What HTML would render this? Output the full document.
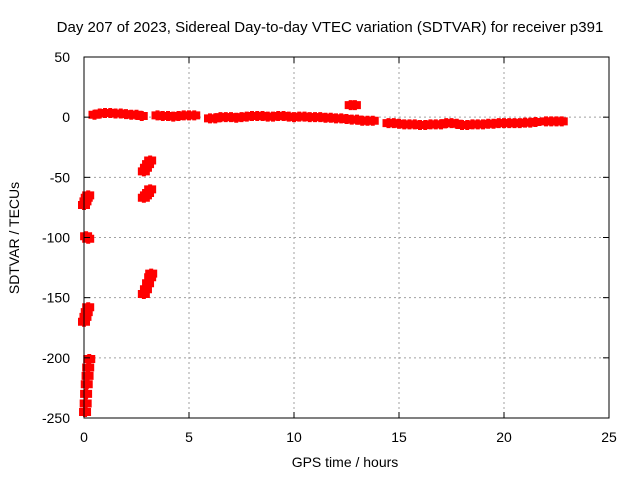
<!DOCTYPE html>
<html><head><meta charset="utf-8"><style>
body{margin:0;background:#fff;}
svg{display:block;font-family:"Liberation Sans",sans-serif;}
</style></head><body>
<svg id="chart" width="640" height="480" viewBox="0 0 640 480">
<text x="330" y="32" font-size="15" text-anchor="middle" fill="#000">Day 207 of 2023, Sidereal Day-to-day VTEC variation (SDTVAR) for receiver p391</text>
<text x="0" y="0" font-size="14" text-anchor="middle" transform="translate(19,238) rotate(-90)">SDTVAR / TECUs</text>
<text x="345" y="467" font-size="14" text-anchor="middle">GPS time / hours</text>
<g id="grid"></g><g id="marks"></g><g id="axes"></g>
</svg>
<script>
const xTicks=[0,5,10,15,20,25];
const yTicks=[50,0,-50,-100,-150,-200,-250];
const hours=[0.5,0.75,1.0,1.25,1.5,1.75,2.0,2.25,2.5,2.75,3.5,3.75,4.0,4.25,4.5,4.75,5.0,5.25,6.0,6.25,6.5,6.75,7.0,7.25,7.5,7.75,8.0,8.25,8.5,8.75,9.0,9.25,9.5,9.75,10.0,10.25,10.5,10.75,11.0,11.25,11.5,11.75,12.0,12.25,12.5,12.75,13.0,13.25,13.5,13.75,14.5,14.75,15.0,15.25,15.5,15.75,16.0,16.25,16.5,16.75,17.0,17.25,17.5,17.75,18.0,18.25,18.5,18.75,19.0,19.25,19.5,19.75,20.0,20.25,20.5,20.75,21.0,21.25,21.5,22.0,22.25,22.5,22.75,12.7,12.9,
0.05,0.08,0.1,0.13,0.17,0.2,0.25,0.0,0.07,0.13,0.2,0.1,0.2,0.0,0.07,0.13,0.2,2.85,2.95,3.05,3.15,3.2,2.85,2.95,3.05,3.15,2.85,2.95,3.05,3.15];
const values=[2,3,3.5,3.5,3,3,2.5,2,2,1,1.5,1,1,0.5,1,1.5,1.5,1.5,-1,-1,0,0,0,-0.5,0,0.5,1,1,1,0.5,0.5,1,1,0.5,0,0.5,0.5,0,0,0,-0.5,-0.5,-1,-1,-1.5,-2,-2,-3,-3,-3,-5,-5,-5.5,-6,-6,-6,-6.5,-6.5,-6,-6,-6,-5,-5,-5.5,-6.5,-6.5,-6,-6,-6,-5.5,-5.5,-5,-5,-5,-5,-5,-4.5,-4.5,-4,-3.5,-3.5,-3.5,-3.5,10,10,
-245,-238,-230,-222,-215,-208,-201,-170,-166,-162,-158,-99,-101,-73,-70,-67,-65,-147,-143,-138,-133,-130,-67,-65,-63,-60,-45,-42,-39,-36];
const L=84,R=609,T=57,B=418;
const xs=h=>L+(h-0)/25*(R-L);
const ys=v=>T+(50-v)/300*(B-T);
const NS='http://www.w3.org/2000/svg';
function mk(tag,attrs,parent){const e=document.createElementNS(NS,tag);for(const k in attrs)e.setAttribute(k,attrs[k]);parent.appendChild(e);return e;}
const grid=document.getElementById('grid'),axes=document.getElementById('axes'),marks=document.getElementById('marks');
xTicks.forEach(t=>{const x=xs(t);
 if(t>0&&t<25){const g=mk('line',{x1:x,x2:x,y1:T,y2:B,stroke:'#a0a0a0','stroke-dasharray':'2,3'},grid);
 
 }
 mk('line',{x1:x,x2:x,y1:B,y2:B-6,stroke:'#000'},axes);mk('line',{x1:x,x2:x,y1:T,y2:T+6,stroke:'#000'},axes);
 const tx=mk('text',{x:x,y:B+24,'font-size':14,'text-anchor':'middle'},axes);tx.textContent=t;
 
 });
yTicks.forEach(t=>{const y=ys(t);
 if(t<50&&t>-250){const g=mk('line',{x1:L,x2:R,y1:y,y2:y,stroke:'#a0a0a0','stroke-dasharray':'2,3'},grid);
 
 }
 mk('line',{x1:L,x2:L+6,y1:y,y2:y,stroke:'#000'},axes);mk('line',{x1:R,x2:R-6,y1:y,y2:y,stroke:'#000'},axes);
 const tx=mk('text',{x:L-14,y:y+5,'font-size':14,'text-anchor':'end'},axes);tx.textContent=t;
 
 });
const frame=mk('rect',{x:L,y:T,width:R-L,height:B-T,fill:'none',stroke:'#000','stroke-width':1},axes);


hours.forEach((h,i)=>{const x=xs(h),y=ys(values[i]);
 const p=mk('path',{d:`M${x-6},${y}h12M${x},${y-5}v10M${x-4},${y-2}h8v4h-8z`,stroke:'#ff0000','stroke-width':4,fill:'#ff0000'},marks);
 
 });
</script>
</body></html>
